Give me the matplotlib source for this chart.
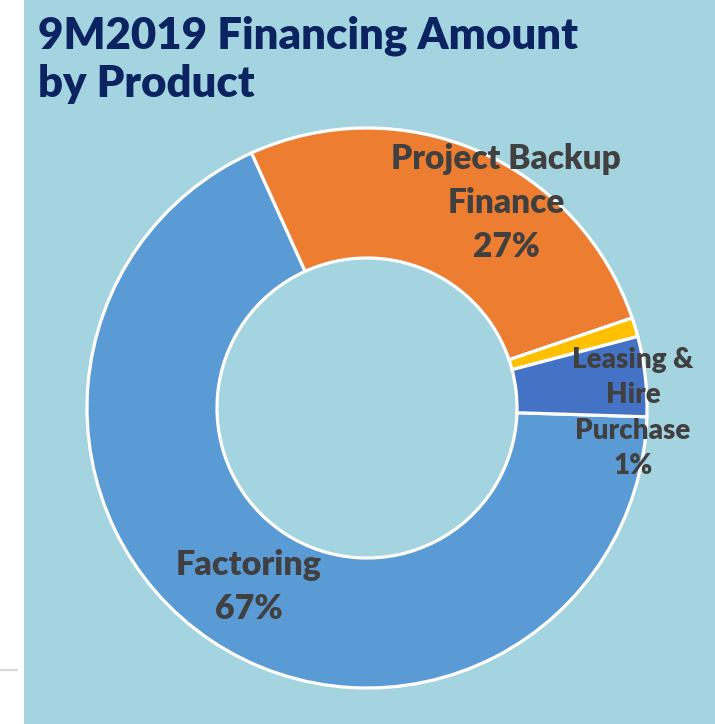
import matplotlib
matplotlib.use("Agg")
import matplotlib.pyplot as plt
from matplotlib.patches import Rectangle
from matplotlib.lines import Line2D

# ---- data ----
categories = ["Factoring", "Project Backup Finance", "Leasing & Hire Purchase", "Others"]
values = [67.6, 26.5, 1.1, 4.6]
colors = ["#5B9BD5", "#ED7D31", "#FFC000", "#4472C4"]
label_texts = ["Factoring\n67%", "Project Backup\nFinance\n27%", "Leasing &\nHire\nPurchase\n1%"]
title = "9M2019 Financing Amount\nby Product"

W, H = 715, 724
fig = plt.figure(figsize=(W / 100, H / 100), dpi=100, facecolor="white")

def fx(x):
    return x / W

def fy(y):
    return 1 - y / H

# background panel
fig.patches.append(Rectangle((fx(24), 0), 1 - fx(24), 1, transform=fig.transFigure,
                             facecolor="#A3D4E0", edgecolor="none", zorder=-5))
fig.lines.append(Line2D([0, fx(17)], [fy(670), fy(670)], transform=fig.transFigure,
                        color="#D9D9D9", linewidth=1.6, zorder=-4))

cx, cy, R = 367, 408, 280
ax = fig.add_axes([fx(cx - R), fy(cy + R), 2 * R / W, 2 * R / H])
ax.set_zorder(2)
ax.set_facecolor("none")
wedges, _ = ax.pie(values, colors=colors, startangle=-1.8, counterclock=False,
                   radius=1.0, wedgeprops=dict(width=1 - 150 / 280, edgecolor="white", linewidth=2.3))
ax.set_xlim(-1.0, 1.0)
ax.set_ylim(-1.0, 1.0)
ax.set_aspect("auto")
ax.axis("off")

font = "Lato"
tcol = "#404040"
fig.text(fx(38), fy(16), title, ha="left", va="top", fontsize=31.5, fontweight="heavy",
         color="#0B2360", family=font, linespacing=1.22, zorder=5)

fig.text(fx(249), fy(587), label_texts[0], ha="center", va="center", fontsize=24.5,
         fontweight="heavy", color=tcol, family=font, linespacing=1.45, zorder=5)
fig.text(fx(506), fy(203), label_texts[1], ha="center", va="center", fontsize=24,
         fontweight="heavy", color=tcol, family=font, linespacing=1.45, zorder=5)
fig.text(fx(633), fy(413), label_texts[2], ha="center", va="center", fontsize=20,
         fontweight="heavy", color=tcol, family=font, linespacing=1.45, zorder=5)

fig.savefig("out.png", dpi=100, facecolor="white")
